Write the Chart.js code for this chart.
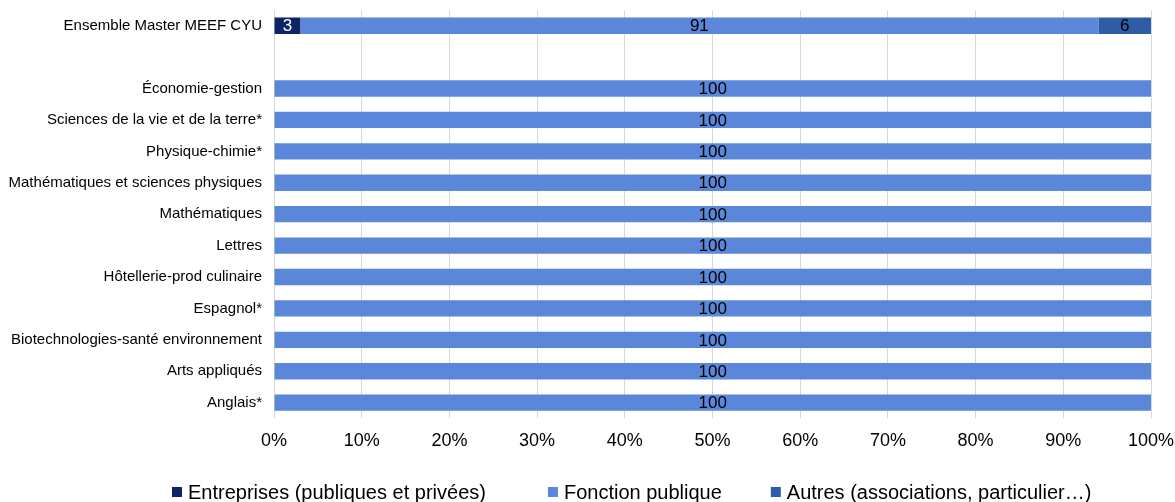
<!DOCTYPE html>
<html>
<head>
<meta charset="utf-8">
<script src="https://cdn.jsdelivr.net/npm/chart.js@4.4.0/dist/chart.umd.min.js"></script>
<style>
  html, body { margin: 0; padding: 0; background: #fff; }
  #wrap { width: 1175px; height: 502px; }
</style>
</head>
<body>
<div id="wrap"><canvas id="chart"></canvas></div>
<script>
// Categories (empty string = blank row in the original)
const categories = [
  'Ensemble Master MEEF CYU', '',
  'Économie-gestion', 'Sciences de la vie et de la terre*', 'Physique-chimie*',
  'Mathématiques et sciences physiques', 'Mathématiques', 'Lettres',
  'Hôtellerie-prod culinaire', 'Espagnol*', 'Biotechnologies-santé environnement',
  'Arts appliqués', 'Anglais*'
];

// Series values (%)
const entreprises = [3, null, 0, 0, 0, 0, 0, 0, 0, 0, 0, 0, 0];
const fonctionPublique = [91, null, 100, 100, 100, 100, 100, 100, 100, 100, 100, 100, 100];
const autres = [6, null, 0, 0, 0, 0, 0, 0, 0, 0, 0, 0, 0];

// Tick values for the x axis
const xTicks = [0, 10, 20, 30, 40, 50, 60, 70, 80, 90, 100];

const FONT = '"Liberation Sans", Arial, sans-serif';

// Draw the value in the middle of each segment
const segmentLabels = {
  id: 'segmentLabels',
  afterDatasetsDraw(chart) {
    const ctx = chart.ctx;
    ctx.save();
    ctx.font = '17px ' + FONT;
    ctx.textAlign = 'center';
    ctx.textBaseline = 'middle';
    chart.data.datasets.forEach((ds, i) => {
      const meta = chart.getDatasetMeta(i);
      meta.data.forEach((bar, j) => {
        const v = ds.data[j];
        if (!v) return;
        ctx.fillStyle = ds.labelColor;
        const x = (bar.x + bar.base) / 2;
        ctx.fillText(String(v), x, bar.y + 1);
      });
    });
    ctx.restore();
  }
};

// Legend drawn by hand so the spacing between items matches the original
const bottomLegend = {
  id: 'bottomLegend',
  afterDraw(chart) {
    const ctx = chart.ctx;
    const y = 492;
    const gaps = [62, 49];
    ctx.save();
    ctx.font = '20px ' + FONT;
    ctx.textBaseline = 'middle';
    let x = 172;
    chart.data.datasets.forEach((ds, i) => {
      ctx.fillStyle = ds.backgroundColor;
      ctx.fillRect(x, y - 5, 10, 10);
      ctx.fillStyle = '#000';
      ctx.fillText(ds.label, x + 16, y + 1);
      x += 16 + ctx.measureText(ds.label).width + (gaps[i] || 0);
    });
    ctx.restore();
  }
};

const chart = new Chart(document.getElementById('chart'), {
  type: 'bar',
  data: {
    labels: categories,
    datasets: [
      { label: 'Entreprises (publiques et privées)', data: entreprises, backgroundColor: '#0d2466', labelColor: '#ffffff' },
      { label: 'Fonction publique', data: fonctionPublique, backgroundColor: '#5a87d9', labelColor: '#000000' },
      { label: 'Autres (associations, particulier…)', data: autres, backgroundColor: '#2e5da6', labelColor: '#000000' }
    ]
  },
  options: {
    indexAxis: 'y',
    responsive: true,
    maintainAspectRatio: false,
    animation: false,
    categoryPercentage: 1,
    barPercentage: 0.52,
    layout: { padding: { left: 8, right: 24, top: 10, bottom: 38 } },
    plugins: {
      legend: { display: false },
      tooltip: { enabled: false }
    },
    scales: {
      x: {
        stacked: true,
        min: 0,
        max: 100,
        afterBuildTicks(axis) { axis.ticks = xTicks.map(v => ({ value: v })); },
        afterFit(scale) { scale.paddingLeft = 0; scale.paddingRight = 0; },
        ticks: {
          callback: v => v + '%',
          color: '#000',
          padding: 12,
          font: { size: 18, family: FONT }
        },
        grid: { color: '#d9d9d9', drawTicks: false },
        border: { display: false }
      },
      y: {
        stacked: true,
        afterFit(scale) {
          scale.width = 266;
          scale.paddingTop = 0;
          scale.paddingBottom = 0;
        },
        ticks: {
          color: '#000',
          padding: 12,
          font: { size: 15, family: FONT }
        },
        grid: { display: false, drawTicks: false },
        border: { display: false }
      }
    }
  },
  plugins: [segmentLabels, bottomLegend]
});
</script>
</body>
</html>
